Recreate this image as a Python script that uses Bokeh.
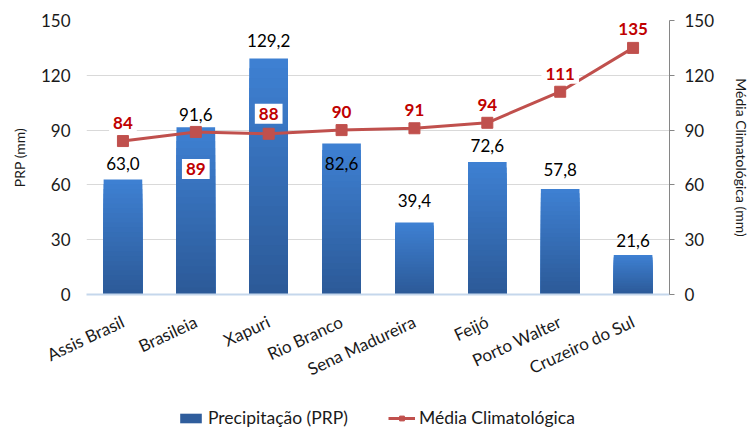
import math
from bokeh.plotting import figure
from bokeh.layouts import column
from bokeh.models import LinearAxis, Range1d, Legend, LegendItem, ColumnDataSource
from bokeh.core.properties import value
from bokeh.embed import file_html
from bokeh.resources import INLINE

# ---- data ----
cidades = ["Assis Brasil", "Brasileia", "Xapuri", "Rio Branco",
           "Sena Madureira", "Feijó", "Porto Walter", "Cruzeiro do Sul"]
prp = [63.0, 91.6, 129.2, 82.6, 39.4, 72.6, 57.8, 21.6]
media = [84, 89, 88, 90, 91, 94, 111, 135]
y_ticks = [0, 30, 60, 90, 120, 150]

prp_txt = [f"{v:.1f}".replace(".", ",") for v in prp]
media_txt = [str(v) for v in media]
# label placement offsets (screen px, negative = up)
prp_off = [-16, -13, -18, 20, -22, -16, -19, -15]
media_off = [-18, 37, -20, -18, -18, -18, -18, -19]

FONT = "Lato"
TXT = "#1a1a1a"
BAR_DARK = "#2F5D9C"
LINE_C = "#C0504D"

p = figure(x_range=cidades, y_range=Range1d(0, 150),
           width=753, height=395, output_backend="svg",
           toolbar_location=None)
p.min_border_left = 86
p.min_border_right = 73
p.min_border_top = 20
p.min_border_bottom = 101
p.outline_line_color = None
p.background_fill_color = "white"
p.extra_y_ranges = {"right": Range1d(0, 150)}

src = ColumnDataSource(dict(x=cidades, prp=prp, media=media,
                            prp_txt=prp_txt, media_txt=media_txt,
                            prp_off=prp_off, media_off=media_off))

# gradient bars: lighter top, darker bottom
n = 24
top_c = (0x3E, 0x80, 0xD2)
bot_c = (0x2C, 0x5A, 0x98)
for i in range(n):
    t = i / (n - 1)
    c = tuple(int(round(top_c[k] + (bot_c[k] - top_c[k]) * t)) for k in range(3))
    col = "#%02x%02x%02x" % c
    frac = 1 - i / n
    src.data[f"top{i}"] = [v * frac for v in prp]
    p.vbar(x="x", top=f"top{i}", width=0.53, source=src,
           fill_color=col, line_color=None)

# line
p.line(x="x", y="media", source=src, line_color=LINE_C, line_width=3)
p.scatter(x="x", y="media", source=src, marker="square", size=11,
          fill_color=LINE_C, line_color=LINE_C)

# bar labels
p.text(x="x", y="prp", text="prp_txt", source=src, y_offset="prp_off",
       text_align="center", text_baseline="middle",
       text_font=value(FONT), text_font_size="17px", text_color="black")

# media labels
p.text(x="x", y="media", text="media_txt", source=src, y_offset="media_off",
       text_align="center", text_baseline="middle",
       text_font=value(FONT), text_font_size="17px", text_font_style="bold",
       text_color="#C00000", background_fill_color="white", padding=4)

# axes
p.yaxis.ticker = y_ticks
p.yaxis.axis_line_color = None
p.yaxis.major_tick_line_color = None
p.yaxis.minor_tick_line_color = None
p.yaxis.major_tick_out = 0
p.yaxis.major_label_standoff = 16
p.yaxis.major_label_text_font = FONT
p.yaxis.major_label_text_font_size = "17px"
p.yaxis.major_label_text_color = TXT
p.yaxis.axis_label = "PRP (mm)"
p.yaxis.axis_label_text_font = FONT
p.yaxis.axis_label_text_font_size = "14px"
p.yaxis.axis_label_text_font_style = "normal"
p.yaxis.axis_label_text_color = TXT
p.yaxis.axis_label_standoff = 10

ra = LinearAxis(y_range_name="right", ticker=y_ticks)
ra.axis_line_color = "#868686"
ra.major_tick_line_color = "#868686"
ra.major_tick_out = 5
ra.major_tick_in = 0
ra.minor_tick_line_color = None
ra.major_label_standoff = 10
ra.major_label_text_font = FONT
ra.major_label_text_font_size = "17px"
ra.major_label_text_color = TXT
ra.axis_label = "Média Climatológica (mm)"
ra.axis_label_text_font = FONT
ra.axis_label_text_font_size = "14px"
ra.axis_label_text_font_style = "normal"
ra.axis_label_text_color = TXT
ra.axis_label_standoff = 16
p.add_layout(ra, "right")

p.xaxis.axis_line_color = "#C5D7EC"
p.xaxis.axis_line_width = 2
p.xaxis.major_tick_line_color = None
p.xaxis.major_tick_out = 0
p.xaxis.major_label_orientation = math.radians(25)
p.xaxis.major_label_standoff = 26
p.xaxis.major_label_text_font = FONT
p.xaxis.major_label_text_font_size = "17px"
p.xaxis.major_label_text_color = TXT

p.xgrid.grid_line_color = None
p.ygrid.ticker = y_ticks
p.ygrid.grid_line_color = "#D9D9D9"
p.ygrid.grid_line_width = 1

# ---- legend strip ----
lf = figure(width=753, height=33, x_range=(0, 1), y_range=(0, 1),
            output_backend="svg", toolbar_location=None)
lf.min_border = 0
lf.axis.visible = False
lf.grid.grid_line_color = None
lf.outline_line_color = None
hidden = ColumnDataSource(dict(x=[-10], y=[-10]))
lb = lf.vbar(x="x", top="y", width=0.1, source=hidden,
             fill_color=BAR_DARK, line_color=None)
ll = lf.line(x="x", y="y", source=hidden, line_color=LINE_C, line_width=3)
ls = lf.scatter(x="x", y="y", source=hidden, marker="square", size=11,
                fill_color=LINE_C, line_color=LINE_C)

legend = Legend(items=[
    LegendItem(label="Precipitação (PRP)", renderers=[lb]),
    LegendItem(label="Média Climatológica", renderers=[ll, ls]),
], orientation="horizontal", location=(91, 0))
legend.border_line_color = None
legend.background_fill_alpha = 0
legend.label_text_font = FONT
legend.label_text_font_size = "17.5px"
legend.label_text_color = TXT
legend.glyph_width = 27
legend.glyph_height = 12
legend.padding = 2
legend.margin = 0
legend.spacing = 40
legend.label_standoff = 4
lf.add_layout(legend, "center")

layout = column(p, lf, spacing=0)
open("out.html", "w").write(file_html(layout, INLINE))
